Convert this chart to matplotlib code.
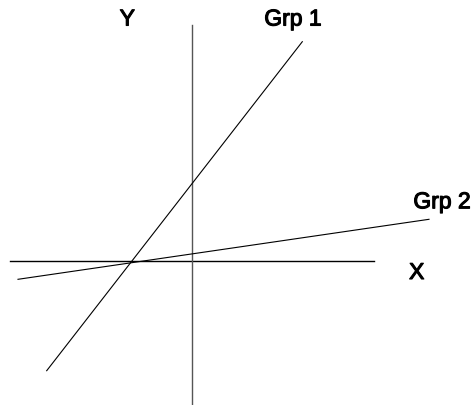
import matplotlib
matplotlib.use("Agg")
import matplotlib.pyplot as plt
import matplotlib.patheffects as pe

# Conceptual interaction diagram: data units with the origin at the axis crossing
x_axis = [-182, 182]          # horizontal axis extent (y = 0)
y_axis = [-144, 236]          # vertical axis extent (x = 0)
grp1_x = [-145.3, 110.3]
grp1_y = [-109.7, 219.3]
grp2_x = [-174.0, 237.0]
grp2_y = [-18.3, 41.7]
labels = {"Y": (-64.7, 235.5), "Grp 1": (101.0, 235.5), "Grp 2": (250.0, 52.7), "X": (224.7, -18.0)}

plt.rcParams['font.family'] = ['Liberation Sans', 'DejaVu Sans']
fig = plt.figure(figsize=(4.72, 4.06), dpi=100)
ax = fig.add_axes([0, 0, 1, 1])
ax.set_xlim(-192, 280)
ax.set_ylim(-144, 262)
ax.axis('off')

ax.plot(x_axis, [0, 0], color='black', lw=1.0)
ax.plot([0, 0], y_axis, color='#555555', lw=1.0)
ax.plot(grp1_x, grp1_y, color='black', lw=0.8)
ax.plot(grp2_x, grp2_y, color='black', lw=0.8)

for txt, (tx, ty) in labels.items():
    ax.text(tx, ty, txt, ha='center', va='baseline', fontsize=16.5,
            color='black',
            path_effects=[pe.withStroke(linewidth=0.8, foreground='black')])

fig.savefig("out.png", dpi=100)
